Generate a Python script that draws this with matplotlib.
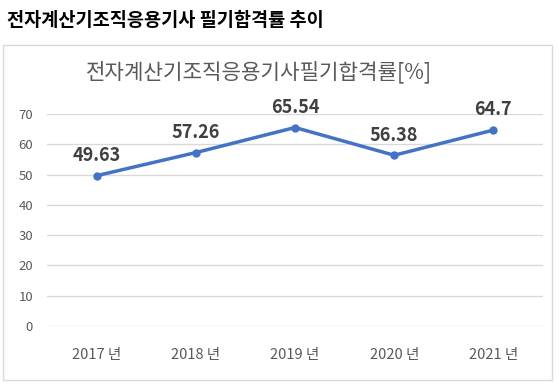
import matplotlib.pyplot as plt
from matplotlib.patches import Rectangle

plt.rcParams['font.family'] = ['Noto Sans CJK KR', 'DejaVu Sans']

years = ['2017 년', '2018 년', '2019 년', '2020 년', '2021 년']
rates = [49.63, 57.26, 65.54, 56.38, 64.7]
rate_labels = ['49.63', '57.26', '65.54', '56.38', '64.7']
yticks = [0, 10, 20, 30, 40, 50, 60, 70]

W, H = 559, 387
fig = plt.figure(figsize=(W / 100, H / 100), dpi=100)

# 바깥 제목
fig.text(7 / W, 1 - 20 / H, '전자계산기조직응용기사 필기합격률 추이',
         fontsize=13.4, fontweight='bold', color='black', ha='left', va='center')

# 차트 테두리
fig.patches.append(Rectangle((3 / W, 1 - 380 / H), 549 / W, 335 / H,
                             transform=fig.transFigure, fill=False,
                             edgecolor='#d9d9d9', linewidth=1))

fig.text(259 / W, 1 - 72 / H, '전자계산기조직응용기사필기합격률[%]',
         fontsize=15.3, fontweight='light', color='#595959', ha='center', va='center')

ax = fig.add_axes([47 / W, 1 - 326 / H, 496 / W, 212 / H])
x = list(range(len(years)))
ax.plot(x, rates, color='#4472c4', linewidth=2.5, marker='o', markersize=5, zorder=3)

for xi, v, lab in zip(x, rates, rate_labels):
    ax.annotate(lab, (xi, v), xytext=(0, 14.5), textcoords='offset points',
                ha='center', va='center', fontsize=13, fontweight='bold',
                color='#404040', annotation_clip=False)

ax.set_xlim(-0.5, 4.5)
ax.set_ylim(0, 70)
ax.set_yticks(yticks)
ax.set_xticks(x)
ax.set_xticklabels(years)
ax.grid(axis='y', color='#d9d9d9', linewidth=1)
ax.set_axisbelow(True)
for s in ax.spines.values():
    s.set_visible(False)
ax.tick_params(axis='y', length=0, pad=10, labelsize=9.5, labelcolor='#595959')
ax.tick_params(axis='x', length=0, pad=16, labelsize=10.5, labelcolor='#595959')

fig.savefig('out.png', dpi=100)
